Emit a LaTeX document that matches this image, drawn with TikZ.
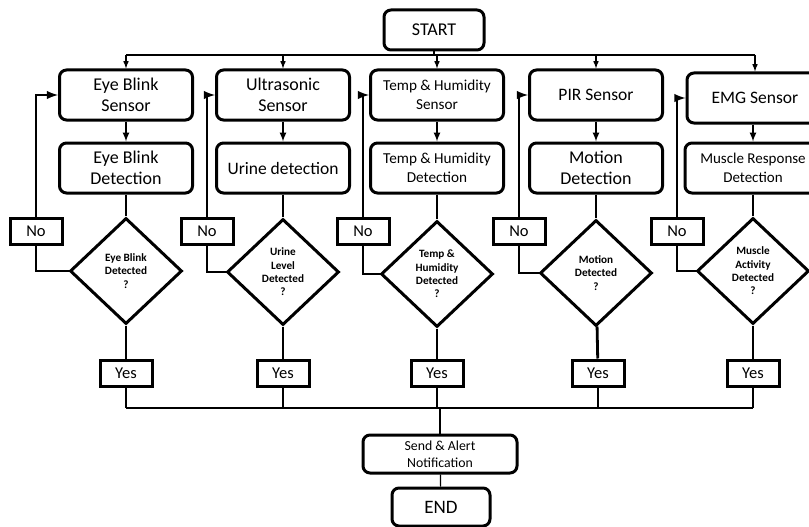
\documentclass[tikz,border=0pt]{standalone}
\usepackage{fontspec}
\setmainfont{Carlito}
\usetikzlibrary{shapes.geometric}
\usepackage{amsmath}
\usepackage{xcolor}

\begin{document}
\begin{tikzpicture}[x=1pt,y=-1pt]
					\tikzstyle{proc} = [rectangle,rounded corners=7pt,draw=black,fill=white,line width=3pt,minimum width=133pt,minimum height=50pt,inner sep=2pt,align=center,font=\fontsize{18}{21}\selectfont]
					\tikzstyle{decision} = [diamond,draw=black,fill=white,line width=3pt,minimum width=112pt,minimum height=106pt,inner sep=0pt,align=center,font=\bfseries\fontsize{11.2}{13.4}\selectfont]
					\tikzstyle{answer} = [rectangle,draw=black,fill=white,line width=3pt,minimum width=52pt,minimum height=26pt,inner sep=1pt,font=\fontsize{16.5}{20}\selectfont]
					\tikzstyle{edge} = [-]
					\useasboundingbox (0,0) rectangle (809,527);
					\clip (0,0) rectangle (809,527);
					% start and sensors
					\node[proc,minimum width=100pt,minimum height=40pt] (start) at (434,30) {START};
					\node[proc] (s1) at (126,95) {Eye Blink\\Sensor};
					\node[proc] (s2) at (283,95) {Ultrasonic\\Sensor};
					\node[proc,font=\fontsize{15.2}{18.5}\selectfont] (s3) at (437,95) {Temp \& Humidity\\Sensor};
					\node[proc,font=\fontsize{17.5}{20}\selectfont] (s4) at (596,95) {PIR Sensor};
					\node[proc,minimum width=136pt,font=\fontsize{17.5}{20}\selectfont] (s5) at (755,98) {EMG Sensor};
					% detection
					\node[proc] (d1) at (126,168) {Eye Blink\\Detection};
					\node[proc,font=\fontsize{17.5}{20}\selectfont] (d2) at (283,168) {Urine detection};
					\node[proc,font=\fontsize{15.2}{18.5}\selectfont] (d3) at (437,168) {Temp \& Humidity\\Detection};
					\node[proc,font=\fontsize{18}{21.5}\selectfont] (d4) at (596,168) {Motion\\Detection};
					\node[proc,minimum width=136pt,font=\fontsize{15}{19}\selectfont] (d5) at (753,168) {Muscle Response\\Detection};
					% decisions
					\node[decision] (q1) at (126,271) {Eye Blink\\Detected\\?};
					\node[decision] (q2) at (283,272) {Urine\\Level\\Detected\\?};
					\node[decision] (q3) at (437,274) {Temp \&\\Humidity\\Detected\\?};
					\node[decision] (q4) at (596,273) {Motion\\Detected\\?};
					\node[decision] (q5) at (753,271) {Muscle\\Activity\\Detected\\?};
					% answers
					\node[answer] (n1) at (36,231) {No};
					\node[answer] (n2) at (207,231) {No};
					\node[answer] (n3) at (363,231) {No};
					\node[answer] (n4) at (519,231) {No};
					\node[answer] (n5) at (677,231) {No};
					\node[answer] (y1) at (126,373) {Yes};
					\node[answer] (y2) at (283,373) {Yes};
					\node[answer] (y3) at (437,373) {Yes};
					\node[answer] (y4) at (598,373) {Yes};
					\node[answer] (y5) at (753,373) {Yes};
					% end
					\node[proc,minimum width=154pt,minimum height=38pt,font=\fontsize{13.8}{17}\selectfont] (send) at (440,454) {Send \& Alert\\Notification};
					\node[proc,minimum width=98pt,minimum height=38pt,font=\fontsize{19}{21}\selectfont] (end) at (441,507) {END};
					% top bus
					\coordinate (bus) at (0,55);
					\draw[edge,line width=1.5pt] (start.south) -- (start.south |- bus);
					\draw[edge,line width=1.5pt] (s1.north |- bus) -- (s5.north |- bus);
					\foreach \i in {1,...,5}
					{
						\draw[-latex,line width=1.5pt] (s\i.north |- bus) -- (s\i.north);
						\draw[-latex,line width=2pt] (s\i.south -| d\i) -- (d\i);
						\draw[edge,line width=2.8pt] (d\i) -- (q\i);
						\draw[edge,line width=2.8pt] (q\i) -- (y\i);
						\draw[edge,line width=2.8pt] (q\i.west) -| (n\i.south);
						\draw[-latex,line width=2.8pt] (n\i.north) |- (s\i.west);
					}
					% bottom bus
					\coordinate (merge) at (0,408);
					\foreach \i in {1,...,5}
						\draw[edge,line width=1.2pt] (y\i.south) -- (y\i.south |- merge);
					\draw[edge,line width=1.2pt] (y1.south |- merge) -- (y5.south |- merge);
					\draw[edge,line width=1.2pt] (send.north |- merge) -- (send.north);
					\draw[edge,line width=1.2pt] (send) -- (end);
					\end{tikzpicture}
\end{document}
